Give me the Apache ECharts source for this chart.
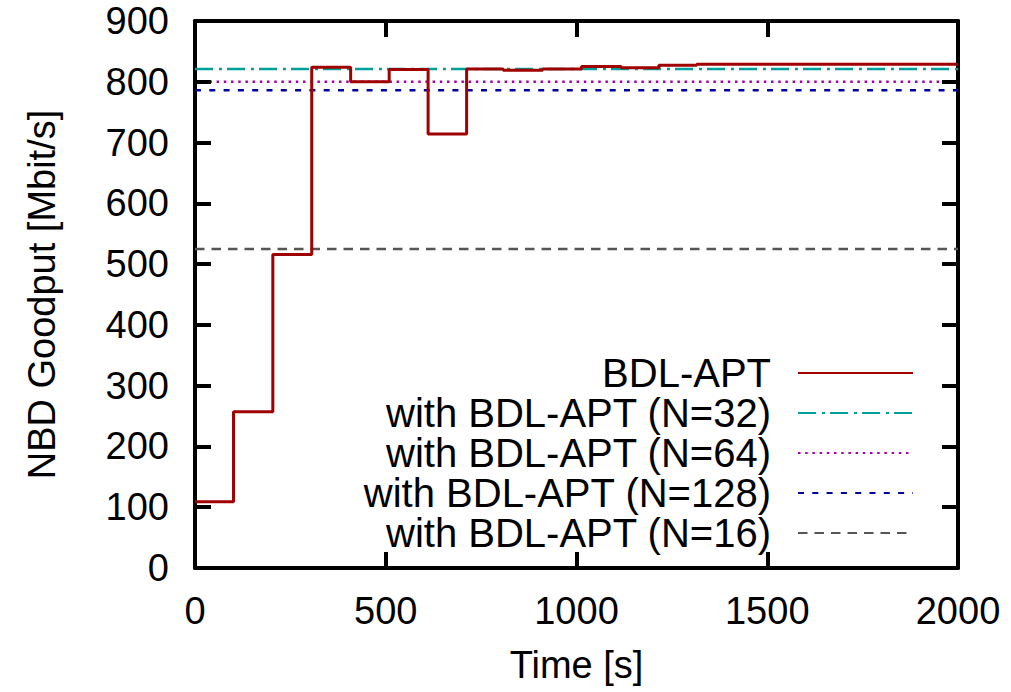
<!DOCTYPE html>
<html>
<head>
<meta charset="utf-8">
<script src="https://cdn.jsdelivr.net/npm/echarts@6/dist/echarts.min.js"></script>
<style>
html,body{margin:0;padding:0;background:#fff;}
#c{width:1011px;height:692px;}
</style>
</head>
<body>
<div id="c"></div>
<script>
// Data
const stepTimes  = [0, 101, 204, 306, 408, 509, 611, 712, 808, 911, 1013, 1117, 1216, 1315, 2000];
const stepValues = [109, 257, 516, 824, 800, 820, 714, 821, 819, 821, 825, 823, 827, 829, 829];
const refNames  = ['with BDL-APT (N=32)', 'with BDL-APT (N=64)', 'with BDL-APT (N=128)', 'with BDL-APT (N=16)'];
const refValues = [821, 800, 786, 525];
const xRange = [0, 2000];
const yRange = [0, 900];
const xTicks = [0, 500, 1000, 1500, 2000];
const yTicks = [0, 100, 200, 300, 400, 500, 600, 700, 800, 900];

const FONT = '"Liberation Sans", Arial, sans-serif';
const colors = ['#a00000', '#00a09a', '#a800a8', '#0000a0', '#555555'];
const dashes = [[18, 6, 3, 5], [2.5, 4.7], [6, 8.3], [9.5, 7]];
const TICK_LEN = 16, TICK_W = 4;

const series = [{
  name: 'BDL-APT', type: 'line', step: 'end', symbol: 'none',
  data: stepTimes.map((t, i) => [t, stepValues[i]]),
  lineStyle: { color: colors[0], width: 3 }, itemStyle: { color: colors[0] },
  z: 5
}];
refNames.forEach((n, i) => {
  series.push({
    name: n, type: 'line', symbol: 'none',
    data: xRange.map(t => [t, refValues[i]]),
    lineStyle: { color: colors[i + 1], width: 2.5, type: dashes[i] },
    itemStyle: { color: colors[i + 1] },
    z: 3
  });
});

function axisCommon() {
  return {
    axisLine: { show: true, onZero: false, lineStyle: { color: '#000', width: 4 } },
    axisTick: { show: true, inside: true, length: TICK_LEN, lineStyle: { color: '#000', width: TICK_W } },
    splitLine: { show: false }
  };
}

const chart = echarts.init(document.getElementById('c'), null, { renderer: 'svg' });
chart.setOption({
  animation: false,
  textStyle: { fontFamily: FONT },
  grid: { left: 195, right: 53, top: 21, bottom: 124, containLabel: false },
  xAxis: [
    Object.assign(axisCommon(), {
      type: 'value', min: xRange[0], max: xRange[1], interval: 500, position: 'bottom',
      name: 'Time [s]', nameLocation: 'middle', nameGap: 78,
      nameTextStyle: { fontSize: 38, color: '#000', fontFamily: FONT },
      axisLabel: { fontSize: 38, color: '#000', margin: 24, fontFamily: FONT,
        formatter: v => xTicks.includes(v) ? String(v) : '' }
    }),
    Object.assign(axisCommon(), {
      type: 'value', min: xRange[0], max: xRange[1], interval: 500, position: 'top',
      axisLabel: { show: false }
    })
  ],
  yAxis: [
    Object.assign(axisCommon(), {
      type: 'value', min: yRange[0], max: yRange[1], interval: 100, position: 'left',
      name: 'NBD Goodput [Mbit/s]', nameLocation: 'middle', nameGap: 134,
      nameTextStyle: { fontSize: 38, color: '#000', fontFamily: FONT },
      axisLabel: { fontSize: 38, color: '#000', margin: 26, fontFamily: FONT,
        formatter: v => yTicks.includes(v) ? String(v) : '' }
    }),
    Object.assign(axisCommon(), {
      type: 'value', min: yRange[0], max: yRange[1], interval: 100, position: 'right',
      axisLabel: { show: false }
    })
  ],
  legend: {
    orient: 'vertical', right: 92, top: 348, align: 'right',
    itemWidth: 115, itemHeight: 20, itemGap: 0,
    itemStyle: { opacity: 0 },
    data: series.map(s => s.name),
    textStyle: { fontSize: 40, color: '#000', fontFamily: FONT, lineHeight: 40, padding: [0, 22, 0, 0] },
    selectedMode: false
  },
  series: series
});

// Mirrored inward tick marks, positioned through the axes' own scales (markLine on a helper series)
const px = v => chart.convertToPixel({ xAxisIndex: 0 }, v);
const py = v => chart.convertToPixel({ yAxisIndex: 0 }, v);
const xl = px(xRange[0]), xr = px(xRange[1]);
const yb = py(yRange[0]), yt = py(yRange[1]);
const tickLines = [];
xTicks.forEach(v => {
  const x = px(v);
  tickLines.push([{ x: x, y: yb }, { x: x, y: yb - TICK_LEN }]);
  tickLines.push([{ x: x, y: yt }, { x: x, y: yt + TICK_LEN }]);
});
yTicks.forEach(v => {
  const y = py(v);
  tickLines.push([{ x: xl, y: y }, { x: xl + TICK_LEN, y: y }]);
  tickLines.push([{ x: xr, y: y }, { x: xr - TICK_LEN, y: y }]);
});
chart.setOption({
  series: series.concat([{
    type: 'line', name: '_ticks', data: [], symbol: 'none', silent: true, z: 20,
    markLine: {
      silent: true, symbol: ['none', 'none'], animation: false,
      label: { show: false },
      lineStyle: { color: '#000', width: TICK_W, type: 'solid' },
      emphasis: { disabled: true },
      data: tickLines
    }
  }])
});
</script>
</body>
</html>
